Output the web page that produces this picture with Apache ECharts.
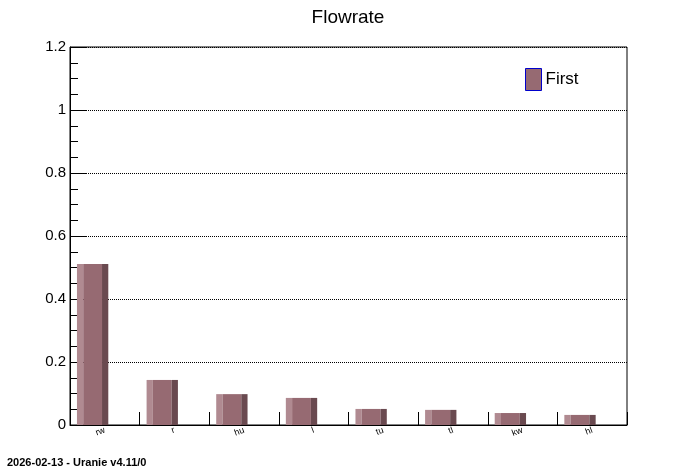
<!DOCTYPE html>
<html>
<head>
<meta charset="utf-8">
<script src="https://cdn.jsdelivr.net/npm/echarts@6/dist/echarts.min.js"></script>
<style>
  html, body { margin: 0; padding: 0; background: #fff; }
  #chart { width: 696px; height: 472px; }
</style>
</head>
<body>
<div id="chart"></div>
<script>
// 数据
var categories = ['rw', 'r', 'hu', 'l', 'tu', 'tl', 'kw', 'hl'];
var flowrate = [0.511, 0.143, 0.098, 0.086, 0.051, 0.048, 0.038, 0.032];
var yTicks = [0, 0.2, 0.4, 0.6, 0.8, 1, 1.2];

var FONT = 'Liberation Sans';
var colLight = '#b08a91';
var colMid = '#966a72';
var colDark = '#6a4a50';

// 柱子：偏左的 3D 效果（浅/中/深三段）
function renderBar(params, api) {
    var idx = api.value(0);
    var val = api.value(1);
    var band = api.size([1, 0])[0];
    var c = api.coord([idx, 0]);
    var top = api.coord([idx, val])[1];
    var x0 = c[0] - band / 2 + band * 0.1;
    var w = band * 0.45;
    var h = c[1] - top;
    var edge = w * 0.2;
    return {
        type: 'group',
        children: [
            { type: 'rect', shape: { x: x0, y: top, width: edge, height: h }, style: { fill: colLight } },
            { type: 'rect', shape: { x: x0 + edge, y: top, width: w - 2 * edge, height: h }, style: { fill: colMid } },
            { type: 'rect', shape: { x: x0 + w - edge, y: top, width: edge, height: h }, style: { fill: colDark } }
        ]
    };
}

var myChart = echarts.init(document.getElementById('chart'));
var option = {
    animation: false,
    backgroundColor: '#fff',
    textStyle: { fontFamily: FONT },
    title: {
        text: 'Flowrate',
        left: 'center',
        top: 3,
        textStyle: { fontFamily: FONT, fontSize: 19, fontWeight: 'normal', color: '#000' }
    },
    legend: {
        left: 525,
        top: 68,
        padding: 0,
        itemWidth: 16,
        itemHeight: 22,
        itemGap: 4,
        icon: 'rect',
        data: ['First'],
        itemStyle: { color: colMid, borderColor: '#0000cc', borderWidth: 1 },
        textStyle: { fontFamily: FONT, fontSize: 17, color: '#000', padding: [0, 0, 0, -1] }
    },
    grid: {
        left: 70, right: 69, top: 47, bottom: 47,
        show: true,
        borderColor: '#000',
        borderWidth: 1,
        backgroundColor: 'transparent'
    },
    xAxis: {
        type: 'category',
        data: categories,
        boundaryGap: true,
        axisLine: { lineStyle: { color: '#000', width: 1 } },
        axisTick: { show: true, inside: true, length: 13, interval: 0, lineStyle: { color: '#000' } },
        axisLabel: {
            interval: 0,
            rotate: 20,
            margin: 5,
            fontFamily: FONT,
            fontSize: 9,
            color: '#000'
        },
        splitLine: { show: false }
    },
    yAxis: {
        type: 'value',
        min: yTicks[0],
        max: yTicks[yTicks.length - 1],
        interval: 0.2,
        axisLine: { show: true, lineStyle: { color: '#000', width: 1 } },
        axisTick: { show: true, inside: true, length: 17, lineStyle: { color: '#000' } },
        minorTick: { show: true, splitNumber: 4, length: 8, lineStyle: { color: '#000' } },
        axisLabel: {
            margin: 4,
            fontFamily: FONT,
            fontSize: 15,
            color: '#000',
            formatter: function (v) { return String(+v.toFixed(1)); }
        },
        splitLine: { show: true, lineStyle: { color: '#000', type: 'dotted', width: 1 } }
    },
    series: [{
        name: 'First',
        type: 'custom',
        renderItem: renderBar,
        itemStyle: { color: colMid },
        encode: { x: 0, y: 1 },
        data: flowrate.map(function (v, i) { return [i, v]; })
    }],
    graphic: [{
        type: 'text',
        left: 7,
        top: 457,
        style: { text: '2026-02-13 - Uranie v4.11/0', font: 'bold 11px "Liberation Sans"', fill: '#000' }
    }]
};
myChart.setOption(option);
window.onresize = myChart.resize;
</script>
</body>
</html>
